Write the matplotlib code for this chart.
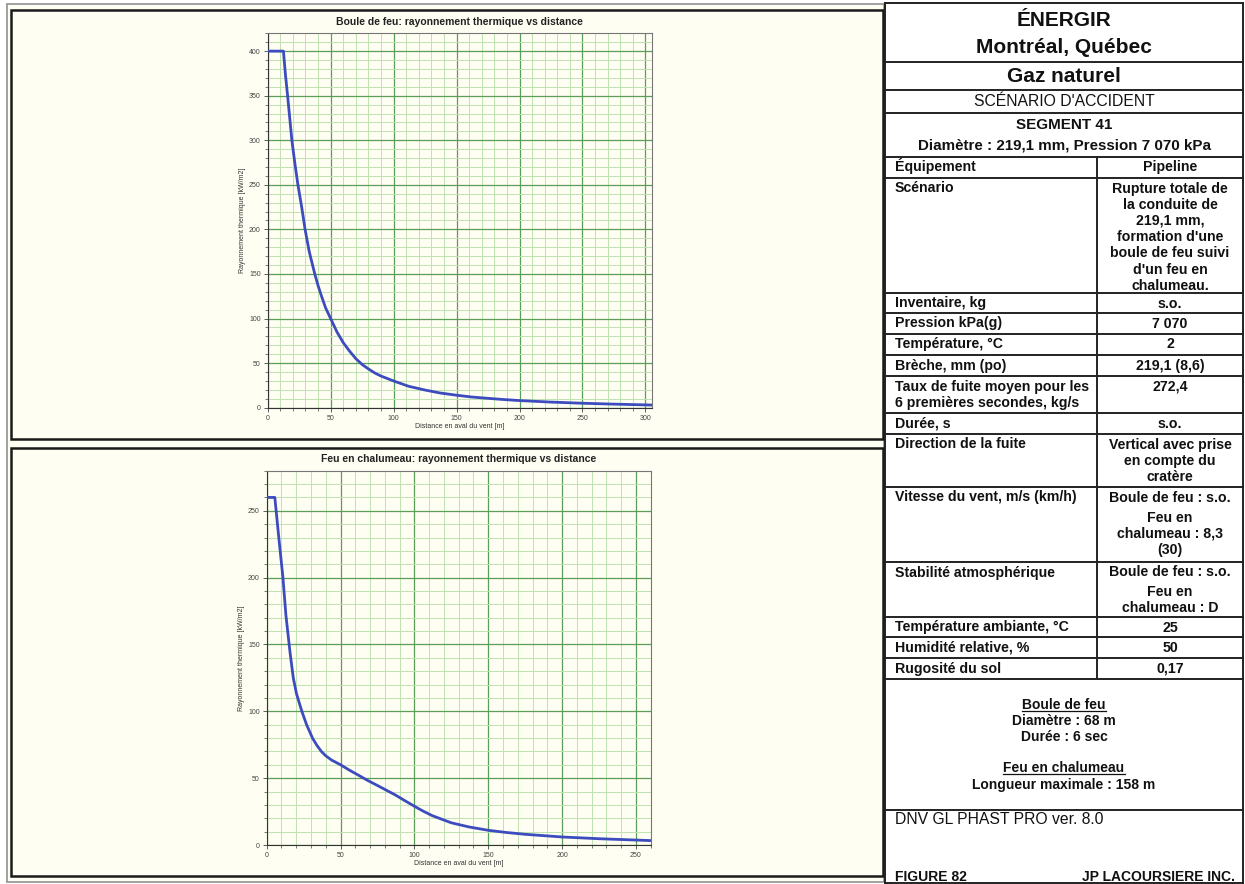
import matplotlib.pyplot as plt
from matplotlib.patches import Rectangle
from matplotlib.lines import Line2D
from matplotlib.ticker import MultipleLocator

# === DATA ===
fb_dist = [0, 12.5, 14, 15.8, 17.5, 19.2, 21.5, 24, 27, 29.7, 33, 37.4, 40, 43, 46, 50,
           55, 60, 65, 70, 75, 80, 85, 90, 100, 112, 125, 137, 150, 162, 175,
           187, 200, 225, 250, 275, 305]
fb_rad = [400, 400, 375, 350, 325, 300, 275, 250, 225, 200, 175, 150, 137, 124, 112, 100,
          85, 73, 63.5, 55, 48.5, 43.5, 39, 35.5, 30, 24, 19.8, 16.5, 14, 12, 10.5,
          9.2, 8, 6.3, 5, 4, 3]

tc_dist = [0, 5.5, 8, 11, 13, 15.7, 18, 20.2, 23.8, 27, 31, 34, 37, 40, 44, 50,
           56, 62, 68, 75, 81, 87, 93, 100, 106, 112, 125, 137, 150, 162, 175,
           200, 225, 260]
tc_rad = [260, 260, 232, 200, 172, 145, 125, 113, 100, 90, 80, 74.5, 70, 66.7, 63.5, 60,
          56, 52.3, 48.5, 44.5, 41, 37.5, 33.5, 29, 25.3, 22, 16.6, 13.5, 11, 9.4, 8,
          6, 4.7, 3.3]

fb_title = "Boule de feu: rayonnement thermique vs distance"
tc_title = "Feu en chalumeau: rayonnement thermique vs distance"
xlabel = "Distance en aval du vent [m]"
ylabel = "Rayonnement thermique [kW/m2]"

header = [("ÉNERGIR", 20, 15, "bold"),
          ("Montréal, Québec", 47.5, 15, "bold"),
          ("Gaz naturel", 76, 15, "bold"),
          ("SCÉNARIO D'ACCIDENT", 101.5, 11.3, "normal"),
          ("SEGMENT 41", 125, 11, "bold"),
          ("Diamètre : 219,1 mm, Pression 7 070 kPa", 146, 10.9, "bold")]

# (row top, left text, right text blocks [(offset, text)])
rows = [
    (157, "Équipement", [(0, "Pipeline")]),
    (178, "Scénario", [(0, "Rupture totale de\nla conduite de\n219,1 mm,\nformation d'une\nboule de feu suivi\nd'un feu en\nchalumeau.")]),
    (293, "Inventaire, kg", [(0, "s.o.")]),
    (313, "Pression kPa(g)", [(0, "7 070")]),
    (334, "Température, °C", [(0, "2")]),
    (355, "Brèche, mm (po)", [(0, "219,1 (8,6)")]),
    (376, "Taux de fuite moyen pour les\n6 premières secondes, kg/s", [(0, "272,4")]),
    (413, "Durée, s", [(0, "s.o.")]),
    (434, "Direction de la fuite", [(0, "Vertical avec prise\nen compte du\ncratère")]),
    (487, "Vitesse du vent, m/s (km/h)", [(0, "Boule de feu : s.o."), (20, "Feu en\nchalumeau : 8,3\n(30)")]),
    (562, "Stabilité atmosphérique", [(0, "Boule de feu : s.o."), (19, "Feu en\nchalumeau : D")]),
    (617, "Température ambiante, °C", [(0, "25")]),
    (637, "Humidité relative, %", [(0, "50")]),
    (658, "Rugosité du sol", [(0, "0,17")]),
]
table_bottom = 679

notes = [("Boule de feu", 705, True), ("Diamètre : 68 m", 721, False),
         ("Durée : 6 sec", 737, False), ("Feu en chalumeau", 768, True),
         ("Longueur maximale : 158 m", 785, False)]

# === FIGURE ===
W, H = 1245, 884
plt.rcParams['font.family'] = ['Liberation Sans', 'DejaVu Sans']
fig = plt.figure(figsize=(W / 100, H / 100), dpi=100)
fig.patch.set_facecolor("white")

def fx(px):
    return px / W

def fy(py):
    return 1 - py / H

def frame(x0, y0, x1, y1, color, lw, fc="none", z=1):
    fig.add_artist(Rectangle((fx(x0), fy(y1)), fx(x1) - fx(x0), fy(y0) - fy(y1),
                             transform=fig.transFigure, fill=fc != "none",
                             facecolor=fc, edgecolor=color, linewidth=lw, zorder=z))

def hline(y, x0, x1, color="#222222", lw=1.4):
    fig.add_artist(Line2D([fx(x0), fx(x1)], [fy(y), fy(y)], transform=fig.transFigure,
                          color=color, linewidth=lw))

def vline(x, y0, y1, color="#222222", lw=1.4):
    fig.add_artist(Line2D([fx(x), fx(x)], [fy(y0), fy(y1)], transform=fig.transFigure,
                          color=color, linewidth=lw))

def lines_text(x, baseline, text, size, step=16.2, ha="center", weight="bold"):
    for i, line in enumerate(text.split("\n")):
        fig.text(fx(x), fy(baseline + i * step), line, ha=ha, va="baseline",
                 fontsize=size, fontweight=weight, color="#111111")

cream = "#fefef2"
frame(7, 4, 884, 882, "#909090", 1.2, fc=cream, z=-2)
frame(11, 10, 883, 439, "#1a1a1a", 1.8, z=-1)
frame(11, 448, 883, 876, "#1a1a1a", 1.8, z=-1)

def chart(rect, dist, rad, title, xmax, ymax):
    ax = fig.add_axes(rect)
    ax.set_facecolor(cream)
    ax.plot(dist, rad, color="#3c4bbd", linewidth=2, zorder=3)
    ax.set_xlim(0, xmax)
    ax.set_ylim(0, ymax)
    ax.xaxis.set_major_locator(MultipleLocator(50))
    ax.xaxis.set_minor_locator(MultipleLocator(10))
    ax.yaxis.set_major_locator(MultipleLocator(50))
    ax.yaxis.set_minor_locator(MultipleLocator(10))
    ax.grid(which="minor", color="#c0e2b0", linewidth=0.7)
    ax.grid(which="major", color="#5a9e5a", linewidth=0.9)
    ax.set_axisbelow(True)
    ax.tick_params(which="major", labelsize=5, length=3, width=0.6, colors="#444444", pad=2)
    ax.tick_params(which="minor", length=2, width=0.5, colors="#444444")
    for s in ax.spines.values():
        s.set_color("#777777")
        s.set_linewidth(0.8)
    ax.spines["left"].set_color("#333333")
    ax.spines["bottom"].set_color("#333333")
    ax.set_title(title, fontsize=7.5, fontweight="bold", color="#222222", pad=6)
    ax.set_xlabel(xlabel, fontsize=5, color="#333333", labelpad=1)
    ax.set_ylabel(ylabel, fontsize=5, color="#333333", labelpad=2)
    return ax

chart([fx(267.7), fy(407.7), fx(651.7) - fx(267.7), fy(33.3) - fy(407.7)],
      fb_dist, fb_rad, fb_title, 305, 420)
chart([fx(266.7), fy(845), fx(650.7) - fx(266.7), fy(470.7) - fy(845)],
      tc_dist, tc_rad, tc_title, 260, 280)

# === TABLE ===
TL, TR, TM = 885, 1243, 1097
tc = (TL + TR) / 2
rc = (TM + TR) / 2
vline(TL, 3, 883)
vline(TR, 3, 883)
vline(TM, 157, table_bottom)
for y in [3, 62, 90, 113, 157] + [r[0] for r in rows[1:]] + [table_bottom, 810, 883]:
    hline(y, TL, TR)

for text, y, size, weight in header:
    fig.text(fx(tc), fy(y), text, ha="center", va="center", fontsize=size,
             fontweight=weight, color="#111111")

for top, left, right in rows:
    lines_text(895, top + 14.5, left, 10.2, ha="left")
    for off, txt in right:
        lines_text(rc, top + 14.5 + off, txt, 10.2)

fig.canvas.draw()
renderer = fig.canvas.get_renderer()
for txt, y, underline in notes:
    t = fig.text(fx(tc), fy(y), txt, ha="center", va="center", fontsize=10,
                 fontweight="bold", color="#111111")
    if underline:
        bb = t.get_window_extent(renderer)
        hline(y + 6, bb.x0, bb.x1, color="#111111", lw=0.9)

fig.text(fx(895), fy(820), "DNV GL PHAST PRO ver. 8.0", ha="left", va="center",
         fontsize=11.3, color="#111111")
fig.text(fx(895), fy(877), "FIGURE 82", ha="left", va="center", fontsize=10,
         fontweight="bold", color="#111111")
fig.text(fx(1235), fy(877), "JP LACOURSIERE INC.", ha="right", va="center", fontsize=10,
         fontweight="bold", color="#111111")

fig.savefig("out.png", dpi=100)
